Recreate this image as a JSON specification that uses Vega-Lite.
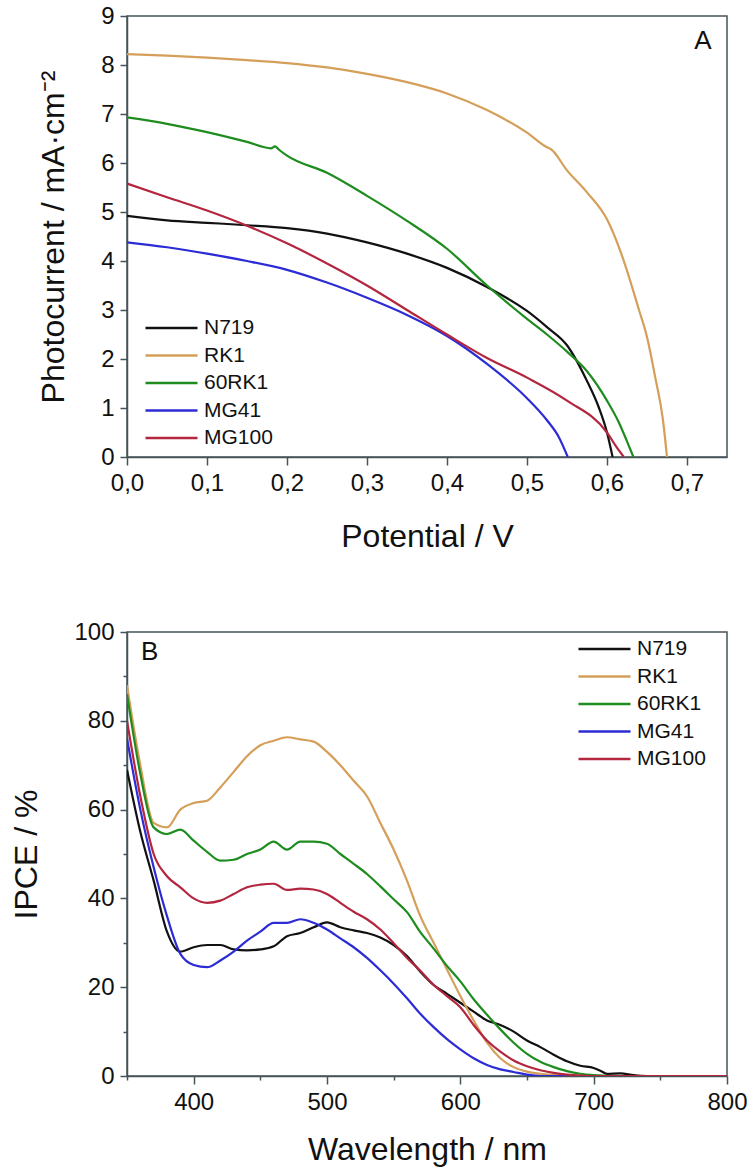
{
  "$schema": "https://vega.github.io/schema/vega-lite/v6.json",
  "padding": {"left": 10, "top": 3, "right": 2, "bottom": 2},
  "spacing": 66,
  "config": {
    "font": "Liberation Sans",
    "view": {"stroke": "#46545a", "strokeWidth": 1.5},
    "axis": {
      "domainColor": "#46545a", "domainWidth": 1.5,
      "tickColor": "#46545a", "tickWidth": 1.5,
      "labelFont": "Liberation Sans", "labelFontSize": 24, "labelColor": "#111111",
      "titleFont": "Liberation Sans", "titleFontSize": 32, "titleFontWeight": "normal", "titleColor": "#111111",
      "grid": false, "labelPadding": 6, "labelFlush": false, "labelOverlap": false
    },
    "legend": {
      "labelFont": "Liberation Sans", "labelFontSize": 21, "labelColor": "#111111",
      "symbolType": "stroke", "symbolSize": 2704, "symbolStrokeWidth": 2.5,
      "padding": 0, "labelOffset": 5
    }
  },
  "datasets": {
    "jv": [
      {"dye":"N719","V":0,"J":4.92},{"dye":"N719","V":0.05,"J":4.83},{"dye":"N719","V":0.1,"J":4.78},{"dye":"N719","V":0.15,"J":4.73},{"dye":"N719","V":0.2,"J":4.67},{"dye":"N719","V":0.25,"J":4.56},{"dye":"N719","V":0.3,"J":4.38},{"dye":"N719","V":0.35,"J":4.15},{"dye":"N719","V":0.4,"J":3.86},{"dye":"N719","V":0.45,"J":3.47},{"dye":"N719","V":0.5,"J":2.98},{"dye":"N719","V":0.525,"J":2.65},{"dye":"N719","V":0.55,"J":2.28},{"dye":"N719","V":0.575,"J":1.55},{"dye":"N719","V":0.59,"J":1.0},{"dye":"N719","V":0.6,"J":0.5},{"dye":"N719","V":0.607,"J":0},
      {"dye":"RK1","V":0,"J":8.22},{"dye":"RK1","V":0.05,"J":8.19},{"dye":"RK1","V":0.1,"J":8.15},{"dye":"RK1","V":0.15,"J":8.1},{"dye":"RK1","V":0.2,"J":8.04},{"dye":"RK1","V":0.25,"J":7.95},{"dye":"RK1","V":0.3,"J":7.82},{"dye":"RK1","V":0.35,"J":7.65},{"dye":"RK1","V":0.4,"J":7.42},{"dye":"RK1","V":0.45,"J":7.08},{"dye":"RK1","V":0.5,"J":6.62},{"dye":"RK1","V":0.525,"J":6.32},{"dye":"RK1","V":0.53,"J":6.28},{"dye":"RK1","V":0.55,"J":5.85},{"dye":"RK1","V":0.575,"J":5.4},{"dye":"RK1","V":0.6,"J":4.85},{"dye":"RK1","V":0.62,"J":4.05},{"dye":"RK1","V":0.64,"J":3.0},{"dye":"RK1","V":0.65,"J":2.45},{"dye":"RK1","V":0.66,"J":1.65},{"dye":"RK1","V":0.67,"J":0.75},{"dye":"RK1","V":0.675,"J":0},
      {"dye":"60RK1","V":0,"J":6.93},{"dye":"60RK1","V":0.05,"J":6.8},{"dye":"60RK1","V":0.1,"J":6.63},{"dye":"60RK1","V":0.15,"J":6.43},{"dye":"60RK1","V":0.18,"J":6.3},{"dye":"60RK1","V":0.185,"J":6.34},{"dye":"60RK1","V":0.19,"J":6.27},{"dye":"60RK1","V":0.2,"J":6.15},{"dye":"60RK1","V":0.25,"J":5.8},{"dye":"60RK1","V":0.3,"J":5.33},{"dye":"60RK1","V":0.35,"J":4.82},{"dye":"60RK1","V":0.4,"J":4.25},{"dye":"60RK1","V":0.45,"J":3.5},{"dye":"60RK1","V":0.5,"J":2.82},{"dye":"60RK1","V":0.525,"J":2.5},{"dye":"60RK1","V":0.55,"J":2.15},{"dye":"60RK1","V":0.575,"J":1.75},{"dye":"60RK1","V":0.6,"J":1.15},{"dye":"60RK1","V":0.615,"J":0.7},{"dye":"60RK1","V":0.625,"J":0.32},{"dye":"60RK1","V":0.633,"J":0},
      {"dye":"MG41","V":0,"J":4.38},{"dye":"MG41","V":0.05,"J":4.28},{"dye":"MG41","V":0.1,"J":4.15},{"dye":"MG41","V":0.15,"J":4.0},{"dye":"MG41","V":0.2,"J":3.82},{"dye":"MG41","V":0.25,"J":3.56},{"dye":"MG41","V":0.3,"J":3.25},{"dye":"MG41","V":0.35,"J":2.9},{"dye":"MG41","V":0.4,"J":2.47},{"dye":"MG41","V":0.45,"J":1.9},{"dye":"MG41","V":0.5,"J":1.2},{"dye":"MG41","V":0.525,"J":0.75},{"dye":"MG41","V":0.54,"J":0.4},{"dye":"MG41","V":0.551,"J":0},
      {"dye":"MG100","V":0,"J":5.58},{"dye":"MG100","V":0.05,"J":5.3},{"dye":"MG100","V":0.1,"J":5.03},{"dye":"MG100","V":0.15,"J":4.72},{"dye":"MG100","V":0.2,"J":4.36},{"dye":"MG100","V":0.25,"J":3.95},{"dye":"MG100","V":0.3,"J":3.5},{"dye":"MG100","V":0.35,"J":3.0},{"dye":"MG100","V":0.4,"J":2.5},{"dye":"MG100","V":0.45,"J":2.02},{"dye":"MG100","V":0.5,"J":1.62},{"dye":"MG100","V":0.55,"J":1.15},{"dye":"MG100","V":0.6,"J":0.5},{"dye":"MG100","V":0.612,"J":0.2},{"dye":"MG100","V":0.621,"J":0}
    ],
    "ipce": [
      {"dye":"N719","nm":350,"ipce":69},{"dye":"N719","nm":360,"ipce":55},{"dye":"N719","nm":370,"ipce":44},{"dye":"N719","nm":380,"ipce":32.5},{"dye":"N719","nm":390,"ipce":28},{"dye":"N719","nm":400,"ipce":29},{"dye":"N719","nm":410,"ipce":29.5},{"dye":"N719","nm":420,"ipce":29.5},{"dye":"N719","nm":430,"ipce":28.5},{"dye":"N719","nm":440,"ipce":28.3},{"dye":"N719","nm":450,"ipce":28.5},{"dye":"N719","nm":460,"ipce":29.2},{"dye":"N719","nm":470,"ipce":31.5},{"dye":"N719","nm":480,"ipce":32.2},{"dye":"N719","nm":490,"ipce":33.5},{"dye":"N719","nm":500,"ipce":34.6},{"dye":"N719","nm":510,"ipce":33.5},{"dye":"N719","nm":520,"ipce":32.8},{"dye":"N719","nm":530,"ipce":32.2},{"dye":"N719","nm":540,"ipce":31.2},{"dye":"N719","nm":550,"ipce":29.5},{"dye":"N719","nm":560,"ipce":27},{"dye":"N719","nm":570,"ipce":23.5},{"dye":"N719","nm":580,"ipce":20.5},{"dye":"N719","nm":590,"ipce":18.5},{"dye":"N719","nm":600,"ipce":16.5},{"dye":"N719","nm":610,"ipce":14.5},{"dye":"N719","nm":620,"ipce":12.5},{"dye":"N719","nm":630,"ipce":11.5},{"dye":"N719","nm":640,"ipce":10},{"dye":"N719","nm":650,"ipce":8},{"dye":"N719","nm":660,"ipce":6.5},{"dye":"N719","nm":670,"ipce":4.8},{"dye":"N719","nm":680,"ipce":3.3},{"dye":"N719","nm":690,"ipce":2.3},{"dye":"N719","nm":700,"ipce":1.8},{"dye":"N719","nm":705,"ipce":1.2},{"dye":"N719","nm":710,"ipce":0.5},{"dye":"N719","nm":720,"ipce":0.6},{"dye":"N719","nm":730,"ipce":0.2},{"dye":"N719","nm":740,"ipce":0},{"dye":"N719","nm":800,"ipce":0},
      {"dye":"RK1","nm":350,"ipce":88},{"dye":"RK1","nm":360,"ipce":70},{"dye":"RK1","nm":370,"ipce":57},{"dye":"RK1","nm":380,"ipce":56},{"dye":"RK1","nm":390,"ipce":60},{"dye":"RK1","nm":400,"ipce":61.5},{"dye":"RK1","nm":410,"ipce":62},{"dye":"RK1","nm":420,"ipce":65},{"dye":"RK1","nm":430,"ipce":68.5},{"dye":"RK1","nm":440,"ipce":72},{"dye":"RK1","nm":450,"ipce":74.5},{"dye":"RK1","nm":460,"ipce":75.5},{"dye":"RK1","nm":470,"ipce":76.3},{"dye":"RK1","nm":480,"ipce":75.8},{"dye":"RK1","nm":490,"ipce":75.3},{"dye":"RK1","nm":500,"ipce":73},{"dye":"RK1","nm":510,"ipce":70},{"dye":"RK1","nm":520,"ipce":66.5},{"dye":"RK1","nm":530,"ipce":63},{"dye":"RK1","nm":540,"ipce":57},{"dye":"RK1","nm":550,"ipce":51},{"dye":"RK1","nm":560,"ipce":44},{"dye":"RK1","nm":570,"ipce":36},{"dye":"RK1","nm":580,"ipce":30},{"dye":"RK1","nm":590,"ipce":24},{"dye":"RK1","nm":600,"ipce":18},{"dye":"RK1","nm":610,"ipce":12.5},{"dye":"RK1","nm":620,"ipce":7.5},{"dye":"RK1","nm":630,"ipce":4},{"dye":"RK1","nm":640,"ipce":2},{"dye":"RK1","nm":650,"ipce":1},{"dye":"RK1","nm":660,"ipce":0.5},{"dye":"RK1","nm":680,"ipce":0.1},{"dye":"RK1","nm":700,"ipce":0},{"dye":"RK1","nm":800,"ipce":0},
      {"dye":"60RK1","nm":350,"ipce":86},{"dye":"60RK1","nm":360,"ipce":68},{"dye":"60RK1","nm":370,"ipce":56},{"dye":"60RK1","nm":380,"ipce":54.5},{"dye":"60RK1","nm":390,"ipce":55.5},{"dye":"60RK1","nm":400,"ipce":53},{"dye":"60RK1","nm":410,"ipce":50.5},{"dye":"60RK1","nm":420,"ipce":48.5},{"dye":"60RK1","nm":430,"ipce":48.7},{"dye":"60RK1","nm":440,"ipce":50},{"dye":"60RK1","nm":450,"ipce":51},{"dye":"60RK1","nm":460,"ipce":52.8},{"dye":"60RK1","nm":470,"ipce":51},{"dye":"60RK1","nm":480,"ipce":52.8},{"dye":"60RK1","nm":490,"ipce":52.8},{"dye":"60RK1","nm":500,"ipce":52.3},{"dye":"60RK1","nm":510,"ipce":50},{"dye":"60RK1","nm":520,"ipce":47.8},{"dye":"60RK1","nm":530,"ipce":45.5},{"dye":"60RK1","nm":540,"ipce":42.7},{"dye":"60RK1","nm":550,"ipce":39.8},{"dye":"60RK1","nm":560,"ipce":36.9},{"dye":"60RK1","nm":570,"ipce":32.4},{"dye":"60RK1","nm":580,"ipce":28.7},{"dye":"60RK1","nm":590,"ipce":24.8},{"dye":"60RK1","nm":600,"ipce":21.3},{"dye":"60RK1","nm":610,"ipce":17.3},{"dye":"60RK1","nm":620,"ipce":13.8},{"dye":"60RK1","nm":630,"ipce":10.5},{"dye":"60RK1","nm":640,"ipce":7.5},{"dye":"60RK1","nm":650,"ipce":5},{"dye":"60RK1","nm":660,"ipce":3.2},{"dye":"60RK1","nm":670,"ipce":2},{"dye":"60RK1","nm":680,"ipce":1.1},{"dye":"60RK1","nm":690,"ipce":0.5},{"dye":"60RK1","nm":700,"ipce":0.2},{"dye":"60RK1","nm":720,"ipce":0},{"dye":"60RK1","nm":800,"ipce":0},
      {"dye":"MG41","nm":350,"ipce":76},{"dye":"MG41","nm":360,"ipce":60},{"dye":"MG41","nm":370,"ipce":47},{"dye":"MG41","nm":380,"ipce":36},{"dye":"MG41","nm":390,"ipce":27.5},{"dye":"MG41","nm":400,"ipce":25},{"dye":"MG41","nm":410,"ipce":24.5},{"dye":"MG41","nm":420,"ipce":26},{"dye":"MG41","nm":430,"ipce":28},{"dye":"MG41","nm":440,"ipce":30.5},{"dye":"MG41","nm":450,"ipce":32.5},{"dye":"MG41","nm":460,"ipce":34.5},{"dye":"MG41","nm":470,"ipce":34.5},{"dye":"MG41","nm":480,"ipce":35.3},{"dye":"MG41","nm":490,"ipce":34.5},{"dye":"MG41","nm":500,"ipce":33},{"dye":"MG41","nm":510,"ipce":31},{"dye":"MG41","nm":520,"ipce":29},{"dye":"MG41","nm":530,"ipce":26.6},{"dye":"MG41","nm":540,"ipce":23.8},{"dye":"MG41","nm":550,"ipce":20.8},{"dye":"MG41","nm":560,"ipce":17.5},{"dye":"MG41","nm":570,"ipce":14},{"dye":"MG41","nm":580,"ipce":11},{"dye":"MG41","nm":590,"ipce":8.3},{"dye":"MG41","nm":600,"ipce":6},{"dye":"MG41","nm":610,"ipce":4},{"dye":"MG41","nm":620,"ipce":2.5},{"dye":"MG41","nm":630,"ipce":1.5},{"dye":"MG41","nm":640,"ipce":0.9},{"dye":"MG41","nm":650,"ipce":0.3},{"dye":"MG41","nm":660,"ipce":0},{"dye":"MG41","nm":800,"ipce":0},
      {"dye":"MG100","nm":350,"ipce":80},{"dye":"MG100","nm":360,"ipce":63},{"dye":"MG100","nm":370,"ipce":50},{"dye":"MG100","nm":380,"ipce":45},{"dye":"MG100","nm":390,"ipce":42.5},{"dye":"MG100","nm":400,"ipce":40},{"dye":"MG100","nm":410,"ipce":39},{"dye":"MG100","nm":420,"ipce":39.5},{"dye":"MG100","nm":430,"ipce":41},{"dye":"MG100","nm":440,"ipce":42.5},{"dye":"MG100","nm":450,"ipce":43.1},{"dye":"MG100","nm":460,"ipce":43.3},{"dye":"MG100","nm":470,"ipce":41.9},{"dye":"MG100","nm":480,"ipce":42.2},{"dye":"MG100","nm":490,"ipce":42},{"dye":"MG100","nm":500,"ipce":41},{"dye":"MG100","nm":510,"ipce":39},{"dye":"MG100","nm":520,"ipce":37},{"dye":"MG100","nm":530,"ipce":35.3},{"dye":"MG100","nm":540,"ipce":33},{"dye":"MG100","nm":550,"ipce":29.9},{"dye":"MG100","nm":560,"ipce":26.6},{"dye":"MG100","nm":570,"ipce":23.7},{"dye":"MG100","nm":580,"ipce":20.5},{"dye":"MG100","nm":590,"ipce":18},{"dye":"MG100","nm":600,"ipce":15.5},{"dye":"MG100","nm":610,"ipce":11.5},{"dye":"MG100","nm":620,"ipce":8},{"dye":"MG100","nm":630,"ipce":5.5},{"dye":"MG100","nm":640,"ipce":3.5},{"dye":"MG100","nm":650,"ipce":2.2},{"dye":"MG100","nm":660,"ipce":1.3},{"dye":"MG100","nm":670,"ipce":0.7},{"dye":"MG100","nm":680,"ipce":0.3},{"dye":"MG100","nm":700,"ipce":0},{"dye":"MG100","nm":800,"ipce":0}
    ]
  },
  "vconcat": [
    {
      "width": 600,
      "height": 441,
      "layer": [
        {
          "data": {"name": "jv"},
          "mark": {"type": "line", "strokeWidth": 2.2, "clip": true, "interpolate": "monotone"},
          "encoding": {
            "x": {
              "field": "V", "type": "quantitative",
              "scale": {"domain": [0, 0.75], "nice": false, "zero": false},
              "axis": {
                "title": "Potential / V", "titlePadding": 26,
                "values": [0,0.05,0.1,0.15,0.2,0.25,0.3,0.35,0.4,0.45,0.5,0.55,0.6,0.65,0.7,0.75],
                "labelExpr": "abs(datum.value*10-round(datum.value*10))<0.001 && datum.value<0.72 ? replace(format(datum.value,'.1f'),'.',',') : ''",
                "tickSize": {"condition": {"test": "abs(datum.value*10-round(datum.value*10))<0.001", "value": 8}, "value": 4}
              }
            },
            "y": {
              "field": "J", "type": "quantitative",
              "scale": {"domain": [0, 9], "nice": false},
              "axis": {
                "title": "Photocurrent / mA·cm⁻²", "titlePadding": 30,
                "values": [0,0.5,1,1.5,2,2.5,3,3.5,4,4.5,5,5.5,6,6.5,7,7.5,8,8.5,9],
                "labelExpr": "datum.value % 1 === 0 ? format(datum.value,'d') : ''",
                "tickSize": {"condition": {"test": "datum.value % 1 === 0", "value": 7}, "value": 4}
              }
            },
            "color": {
              "field": "dye", "type": "nominal",
              "scale": {"domain": ["N719","RK1","60RK1","MG41","MG100"], "range": ["#111111","#d59f5a","#1e8c1e","#2c2cd6","#b3263e"]},
              "legend": {"title": null, "orient": "none", "legendX": 17, "legendY": 302, "clipHeight": 20, "rowPadding": 6.5}
            }
          }
        },
        {
          "data": {"values": [{"panel": "A"}]},
          "mark": {"type": "text", "fontSize": 26, "font": "Liberation Sans", "color": "#111111", "align": "center", "baseline": "middle"},
          "encoding": {
            "x": {"datum": 0.72, "type": "quantitative"},
            "y": {"datum": 8.5, "type": "quantitative"},
            "text": {"field": "panel"}
          }
        }
      ]
    },
    {
      "width": 600,
      "height": 444,
      "layer": [
        {
          "data": {"name": "ipce"},
          "mark": {"type": "line", "strokeWidth": 2.2, "clip": true, "interpolate": "monotone"},
          "encoding": {
            "x": {
              "field": "nm", "type": "quantitative",
              "scale": {"domain": [350, 800], "nice": false, "zero": false},
              "axis": {
                "title": "Wavelength / nm", "titlePadding": 20,
                "values": [350,400,450,500,550,600,650,700,750,800],
                "labelExpr": "datum.value % 100 === 0 ? format(datum.value,'d') : ''",
                "tickSize": {"condition": {"test": "datum.value % 100 === 0", "value": 8}, "value": 4}
              }
            },
            "y": {
              "field": "ipce", "type": "quantitative",
              "scale": {"domain": [0, 100], "nice": false},
              "axis": {
                "title": "IPCE / %", "titlePadding": 30,
                "values": [0,10,20,30,40,50,60,70,80,90,100],
                "labelExpr": "datum.value % 20 === 0 ? format(datum.value,'d') : ''",
                "tickSize": {"condition": {"test": "datum.value % 20 === 0", "value": 7}, "value": 4}
              }
            },
            "color": {
              "field": "dye", "type": "nominal",
              "scale": {"domain": ["N719","RK1","60RK1","MG41","MG100"], "range": ["#111111","#d59f5a","#1e8c1e","#2c2cd6","#b3263e"]},
              "legend": {"title": null, "orient": "none", "legendX": 450, "legendY": 7, "clipHeight": 20, "rowPadding": 6.5}
            }
          }
        },
        {
          "data": {"values": [{"panel": "B"}]},
          "mark": {"type": "text", "fontSize": 26, "font": "Liberation Sans", "color": "#111111", "align": "center", "baseline": "middle"},
          "encoding": {
            "x": {"datum": 367, "type": "quantitative"},
            "y": {"datum": 95.5, "type": "quantitative"},
            "text": {"field": "panel"}
          }
        }
      ]
    }
  ],
  "resolve": {"scale": {"color": "independent"}, "legend": {"color": "independent"}}
}
